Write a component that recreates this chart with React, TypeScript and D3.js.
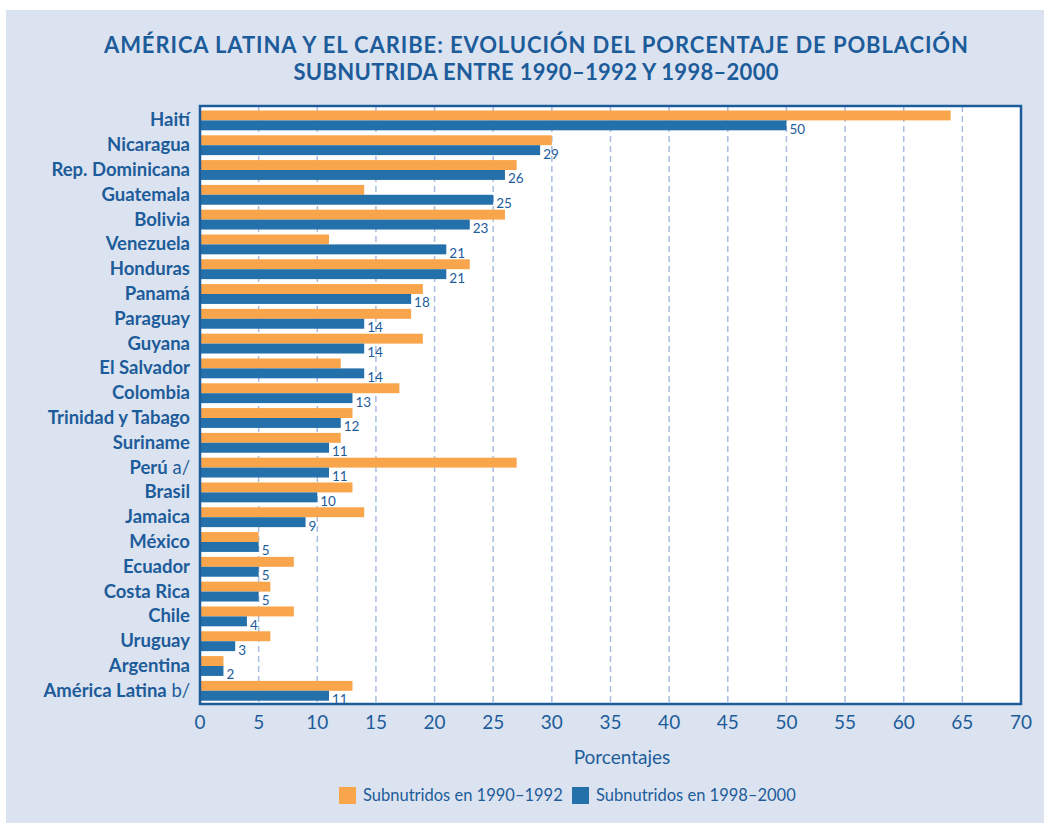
import React from "react";
import * as d3 from "d3";

const categories = [
  "Haití", "Nicaragua", "Rep. Dominicana", "Guatemala", "Bolivia", "Venezuela",
  "Honduras", "Panamá", "Paraguay", "Guyana", "El Salvador", "Colombia",
  "Trinidad y Tabago", "Suriname", "Perú", "Brasil", "Jamaica", "México",
  "Ecuador", "Costa Rica", "Chile", "Uruguay", "Argentina", "América Latina",
];
const notes = ["", "", "", "", "", "", "", "", "", "", "", "", "", "", "a/", "", "", "", "", "", "", "", "", "b/"];
const values1990 = [64, 30, 27, 14, 26, 11, 23, 19, 18, 19, 12, 17, 13, 12, 27, 13, 14, 5, 8, 6, 8, 6, 2, 13];
const values1998 = [50, 29, 26, 25, 23, 21, 21, 18, 14, 14, 14, 13, 12, 11, 11, 10, 9, 5, 5, 5, 4, 3, 2, 11];
const xTicks = [0, 5, 10, 15, 20, 25, 30, 35, 40, 45, 50, 55, 60, 65, 70];
const seriesNames = ["Subnutridos en 1990–1992", "Subnutridos en 1998–2000"];
const titleLines = [
  "AMÉRICA LATINA Y EL CARIBE: EVOLUCIÓN DEL PORCENTAJE DE POBLACIÓN",
  "SUBNUTRIDA ENTRE 1990–1992 Y 1998–2000",
];
const titleWidths = [864, 485];

const ORANGE = "#f9a54b";
const BLUE = "#2370ab";
const DARK = "#1d5c9a";
const BG = "#dce3f0";
const FONT = "Lato, 'Open Sans', sans-serif";

export default function App() {
  const W = 1050, H = 823;
  const left = 200, right = 1021, top = 106, bottom = 704;
  const x = d3.scaleLinear().domain([0, 70]).range([left, right]);
  const y = d3.scaleBand<string>().domain(categories).range([108, 703.2]).paddingInner(0.2).paddingOuter(0.1);
  const bw = y.bandwidth() / 2;

  return (
    <svg width={W} height={H} style={{ position: "absolute", left: 0, top: 0, display: "block" }}>
      <rect x={0} y={0} width={W} height={H} fill="#fff" />
      <rect x={6} y={10} width={1038} height={813} fill={BG} />
      {titleLines.map((t, i) => (
        <text key={i} x={536} y={53 + i * 27} textAnchor="middle" fill={DARK}
          fontFamily={FONT} fontWeight={700} fontSize={22}
          textLength={titleWidths[i]} lengthAdjust="spacing">{t}</text>
      ))}
      <rect x={left} y={top} width={right - left} height={bottom - top} fill="#fff" />
      {xTicks.filter((t) => t > 0 && t < 70).map((t) => (
        <line key={t} x1={x(t)} x2={x(t)} y1={top} y2={bottom} stroke="#a9bde0"
          strokeWidth={1.5} strokeDasharray="6,4" />
      ))}
      {categories.map((c, i) => {
        const y0 = y(c)!;
        return (
          <g key={c}>
            <rect x={x(0)} y={y0} width={x(values1990[i]) - x(0)} height={bw} fill={ORANGE} />
            <rect x={x(0)} y={y0 + bw} width={x(values1998[i]) - x(0)} height={bw} fill={BLUE} />
            <text x={x(values1998[i]) + 3} y={y0 + 2 * bw + 3.5} fill={DARK} fontFamily={FONT}
              fontSize={13.5}>{values1998[i]}</text>
            <text x={190} y={y0 + bw + 6} textAnchor="end" fill={DARK} fontFamily={FONT}
              fontSize={18.5}>
              <tspan fontWeight={700}>{c}</tspan>
              {notes[i] ? <tspan fontWeight={400}>{" " + notes[i]}</tspan> : null}
            </text>
          </g>
        );
      })}
      <rect x={left} y={top} width={right - left} height={bottom - top} fill="none"
        stroke={DARK} strokeWidth={2.5} />
      {xTicks.map((t) => (
        <text key={t} x={x(t)} y={729} textAnchor="middle" fill={DARK} fontFamily={FONT}
          fontSize={19}>{t}</text>
      ))}
      <text x={622} y={764} textAnchor="middle" fill={DARK} fontFamily={FONT} fontSize={19}>Porcentajes</text>
      {seriesNames.map((s, i) => {
        const lx = i === 0 ? 339 : 572;
        return (
          <g key={s}>
            <rect x={lx} y={787} width={17} height={17} fill={i === 0 ? ORANGE : BLUE} />
            <text x={lx + 24} y={801} fill={DARK} fontFamily={FONT} fontSize={16.5}>{s}</text>
          </g>
        );
      })}
    </svg>
  );
}
